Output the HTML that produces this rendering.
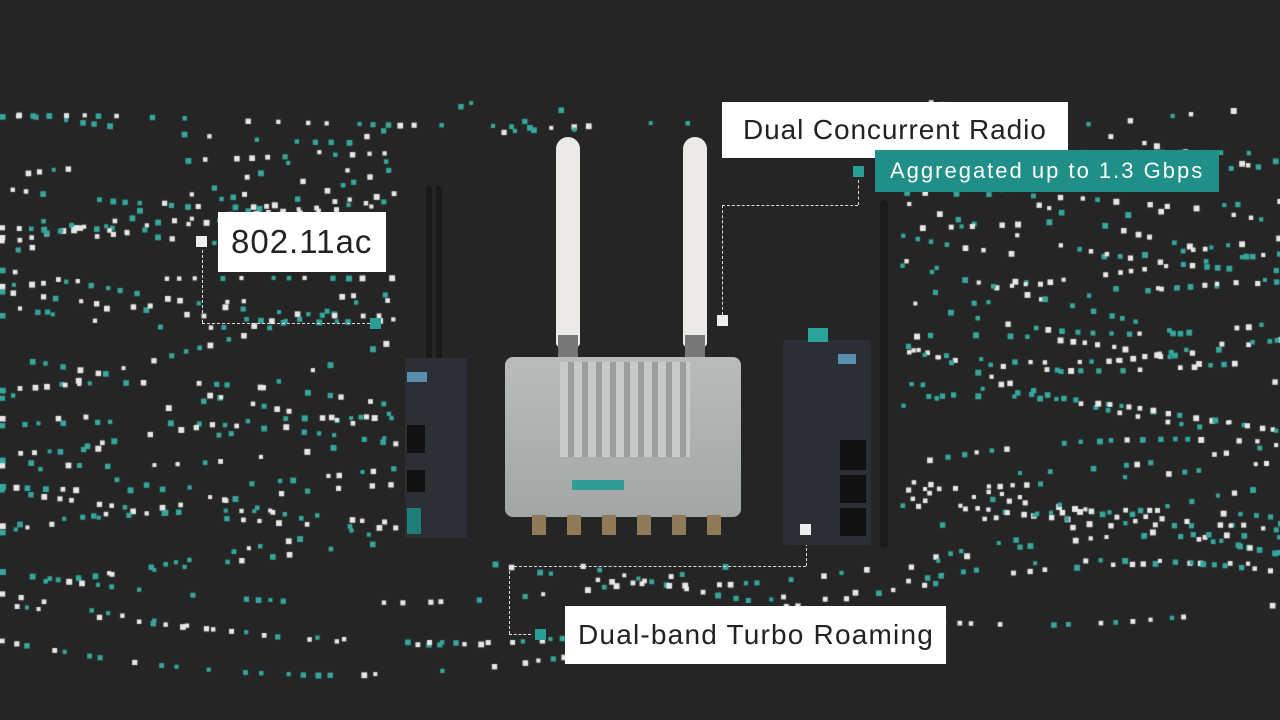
<!DOCTYPE html>
<html><head><meta charset="utf-8"><style>
html,body{margin:0;padding:0;background:#262626;}
#s{position:relative;width:1280px;height:720px;overflow:hidden;background:#252525;font-family:"Liberation Sans","DejaVu Sans",sans-serif;}
canvas{position:absolute;left:0;top:0}
.box{position:absolute;background:#fff;color:#222;white-space:nowrap;}
.t{position:absolute;background:#1f8f87;color:#fff;white-space:nowrap;}
.sq{position:absolute;width:11px;height:11px}
.dl{position:absolute;border-color:#ddd;border-style:dashed;border-width:0}
</style></head><body><div id="s">
<canvas id="c" width="1280" height="720"></canvas>

<div class="dl" style="left:202px;top:250px;height:73px;border-left-width:1.5px"></div>
<div class="dl" style="left:202px;top:323px;width:168px;border-top-width:1.5px"></div>
<div class="dl" style="left:858px;top:180px;height:25px;border-left-width:1.5px"></div>
<div class="dl" style="left:722px;top:205px;width:136px;border-top-width:1.5px"></div>
<div class="dl" style="left:722px;top:205px;height:110px;border-left-width:1.5px"></div>
<div class="dl" style="left:509px;top:566px;width:297px;border-top-width:1.5px"></div>
<div class="dl" style="left:806px;top:538px;height:28px;border-left-width:1.5px"></div>
<div class="dl" style="left:509px;top:566px;height:68px;border-left-width:1.5px"></div>
<div class="dl" style="left:509px;top:634px;width:22px;border-top-width:1.5px"></div>

<div style="position:absolute;left:426px;top:186px;width:6px;height:176px;background:#1a1a1a;border-radius:3px"></div>
<div style="position:absolute;left:436px;top:186px;width:6px;height:176px;background:#1a1a1a;border-radius:3px"></div>
<div style="position:absolute;left:405px;top:358px;width:62px;height:180px;background:#2c3035;border-radius:3px"></div>
<div style="position:absolute;left:407px;top:372px;width:20px;height:10px;background:#5a8fb0"></div>
<div style="position:absolute;left:407px;top:425px;width:18px;height:28px;background:#111"></div>
<div style="position:absolute;left:407px;top:470px;width:18px;height:22px;background:#111"></div>
<div style="position:absolute;left:407px;top:508px;width:14px;height:26px;background:#1f7f78"></div>

<div style="position:absolute;left:556px;top:137px;width:24px;height:210px;background:#eceae6;border-radius:12px 12px 4px 4px"></div>
<div style="position:absolute;left:683px;top:137px;width:24px;height:210px;background:#eceae6;border-radius:12px 12px 4px 4px"></div>
<div style="position:absolute;left:558px;top:335px;width:20px;height:24px;background:#777"></div>
<div style="position:absolute;left:685px;top:335px;width:20px;height:24px;background:#777"></div>
<div style="position:absolute;left:505px;top:357px;width:236px;height:160px;background:linear-gradient(#b9bcbb,#a2a6a5);border-radius:8px"></div>
<div style="position:absolute;left:560px;top:362px;width:130px;height:95px;background:repeating-linear-gradient(90deg,#c8cac9 0 8px,#9a9e9d 8px 14px)"></div>
<div style="position:absolute;left:572px;top:480px;width:52px;height:10px;background:#2f9d95"></div>
<div style="position:absolute;left:520px;top:515px;width:210px;height:20px;background:repeating-linear-gradient(90deg,transparent 0 12px,#8f7b58 12px 26px,transparent 26px 35px)"></div>

<div style="position:absolute;left:880px;top:200px;width:8px;height:348px;background:#1a1a1a;border-radius:4px"></div>
<div style="position:absolute;left:783px;top:340px;width:88px;height:205px;background:#2b2e33;border-radius:3px"></div>
<div style="position:absolute;left:808px;top:328px;width:20px;height:14px;background:#2aa39a"></div>
<div style="position:absolute;left:838px;top:354px;width:18px;height:10px;background:#5a8fb0"></div>
<div style="position:absolute;left:840px;top:440px;width:26px;height:30px;background:#111"></div>
<div style="position:absolute;left:840px;top:475px;width:26px;height:28px;background:#111"></div>
<div style="position:absolute;left:840px;top:508px;width:26px;height:28px;background:#111"></div>

<div class="sq" style="left:196px;top:236px;background:#eee"></div>
<div class="box" style="left:218px;top:212px;width:168px;height:60px;font-size:33px;letter-spacing:1px;line-height:60px;text-indent:13px">802.11ac</div>
<div class="sq" style="left:370px;top:318px;background:#2a9d94"></div>

<div class="box" style="left:722px;top:102px;width:346px;height:56px;font-size:28px;letter-spacing:0.9px;line-height:56px;text-indent:21px">Dual Concurrent Radio</div>
<div class="t" style="left:875px;top:150px;width:344px;height:42px;font-size:22px;letter-spacing:2px;line-height:42px;text-indent:15px">Aggregated up to 1.3 Gbps</div>
<div class="sq" style="left:853px;top:166px;background:#2a9d94"></div>
<div class="sq" style="left:717px;top:315px;background:#eee"></div>

<div class="sq" style="left:800px;top:524px;background:#eee"></div>
<div class="sq" style="left:535px;top:629px;background:#2a9d94"></div>
<div class="box" style="left:565px;top:606px;width:381px;height:58px;font-size:28px;letter-spacing:1.2px;line-height:58px;text-indent:13px">Dual-band Turbo Roaming</div>

<script>
var c=document.getElementById('c').getContext('2d');
var seed=7;function r(){seed=(seed*16807)%2147483647;return seed/2147483647;}
for(var k=0;k<34;k++){
  var base=140+k*14+ (r()*10);
  var ph=r()*6, amp=30+r()*40;
  for(var x=0;x<1280;x+=10+r()*9){
    var y=base+Math.sin(x/260+ph)*amp - 60*Math.exp(-Math.pow((x-640)/300,2))*(k<17?1:-0.3);
    if(y<100||y>690)continue;
    if(x>395&&x<900&&y>130&&y<560)continue;
    if(r()<0.45)continue;
    c.fillStyle=r()<0.5?'#e8e8e8':'#36a79d';
    var s=4+r()*2;
    c.fillRect(x,y,s,s);
  }
}
</script>
</div></body></html>
